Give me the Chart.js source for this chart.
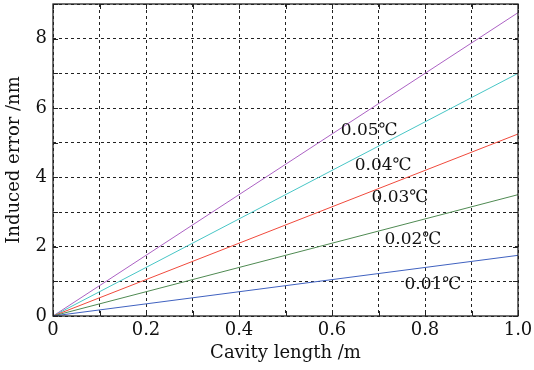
<!DOCTYPE html>
<html lang="en">
<head>
    <meta charset="UTF-8">
    <title>Induced error vs cavity length</title>
    <script src="https://cdn.jsdelivr.net/npm/chart.js"></script>
    <style>
        html, body { margin: 0; padding: 0; background: #ffffff; }
        #wrap { width: 534px; height: 370px; }
    </style>
</head>
<body>
    <div id="wrap"><canvas id="errChart" width="534" height="370"></canvas></div>

    <script>
        // cavity length (m) at both ends of each line
        const cavityLength = [0, 1.0];
        // induced error (nm) for each temperature change
        const err001 = [0, 1.75];
        const err002 = [0, 3.5];
        const err003 = [0, 5.25];
        const err004 = [0, 7.0];
        const err005 = [0, 8.75];
        const seriesNames = ['0.01℃', '0.02℃', '0.03℃', '0.04℃', '0.05℃'];
        // where each series name sits, in data units
        const labelX = [0.817, 0.774, 0.746, 0.71, 0.68];
        const labelY = [0.92, 2.2, 3.42, 4.35, 5.35];

        const colors = ['#4062c0', '#4f8a52', '#f04a3c', '#48c6c6', '#ac62c4'];
        const allSeries = [err001, err002, err003, err004, err005];
        const FONT = '"DejaVu Serif", "Liberation Serif", serif';

        const seriesLabels = {
            id: 'seriesLabels',
            afterDatasetsDraw(chart) {
                const c = chart.ctx, xs = chart.scales.x, ys = chart.scales.y;
                c.save();
                c.font = '17px ' + FONT;
                c.fillStyle = '#111';
                c.textAlign = 'center';
                c.textBaseline = 'middle';
                seriesNames.forEach((n, i) => {
                    c.fillText(n, xs.getPixelForValue(labelX[i]), ys.getPixelForValue(labelY[i]));
                });
                c.restore();
            }
        };

        // solid box round the plot plus short inward ticks
        const frame = {
            id: 'frame',
            afterDraw(chart) {
                const a = chart.chartArea, c = chart.ctx;
                const xs = chart.scales.x, ys = chart.scales.y;
                c.save();
                c.strokeStyle = '#222';
                c.lineWidth = 1;
                c.beginPath();
                xs.ticks.forEach(t => {
                    const px = Math.round(xs.getPixelForValue(t.value)) + 0.5;
                    c.moveTo(px, a.bottom); c.lineTo(px, a.bottom - 5);
                    c.moveTo(px, a.top); c.lineTo(px, a.top + 5);
                });
                ys.ticks.forEach(t => {
                    const py = Math.round(ys.getPixelForValue(t.value)) + 0.5;
                    c.moveTo(a.left, py); c.lineTo(a.left + 5, py);
                    c.moveTo(a.right, py); c.lineTo(a.right - 5, py);
                });
                c.stroke();
                c.lineWidth = 1.3;
                c.strokeRect(a.left, a.top, a.right - a.left, a.bottom - a.top);
                c.restore();
            }
        };

        const ctx = document.getElementById('errChart').getContext('2d');
        new Chart(ctx, {
            type: 'line',
            data: {
                datasets: allSeries.map((s, i) => ({
                    label: seriesNames[i],
                    data: cavityLength.map((x, j) => ({x: x, y: s[j]})),
                    borderColor: colors[i],
                    borderWidth: 1,
                    pointRadius: 0,
                    tension: 0,
                    fill: false
                }))
            },
            options: {
                animation: false,
                responsive: false,
                layout: { padding: { top: 4, right: 16, left: 0, bottom: 0 } },
                plugins: { legend: { display: false }, tooltip: { enabled: false } },
                scales: {
                    x: {
                        type: 'linear',
                        min: 0,
                        max: 1.0,
                        afterFit(s) { s.height = 54; s.paddingLeft = 0; s.paddingRight = 0; },
                        grid: { color: '#222', lineWidth: 1, drawTicks: false },
                        border: { display: false, dash: [3, 3] },
                        ticks: {
                            stepSize: 0.1,
                            autoSkip: false,
                            maxRotation: 0,
                            padding: 4,
                            color: '#111',
                            font: { family: FONT, size: 18 },
                            callback: v => {
                                const k = Math.round(v * 10);
                                return k % 2 === 0 ? (k === 0 ? '0' : (k / 10).toFixed(1)) : '';
                            }
                        },
                        title: {
                            display: true,
                            text: 'Cavity length /m',
                            color: '#111',
                            font: { family: FONT, size: 18 },
                            padding: { top: 0, bottom: 6 }
                        }
                    },
                    y: {
                        min: 0,
                        max: 9,
                        afterFit(s) { s.width = 53; s.paddingTop = 0; s.paddingBottom = 0; },
                        grid: { color: '#222', lineWidth: 1, drawTicks: false },
                        border: { display: false, dash: [3, 3] },
                        ticks: {
                            stepSize: 1,
                            autoSkip: false,
                            padding: 6,
                            color: '#111',
                            font: { family: FONT, size: 18 },
                            callback: v => (Math.round(v) % 2 === 0 ? String(Math.round(v)) : '')
                        },
                        title: {
                            display: true,
                            text: 'Induced error /nm',
                            color: '#111',
                            font: { family: FONT, size: 18 },
                            padding: { top: 4, bottom: 0 }
                        }
                    }
                }
            },
            plugins: [seriesLabels, frame]
        });
    </script>
</body>
</html>
